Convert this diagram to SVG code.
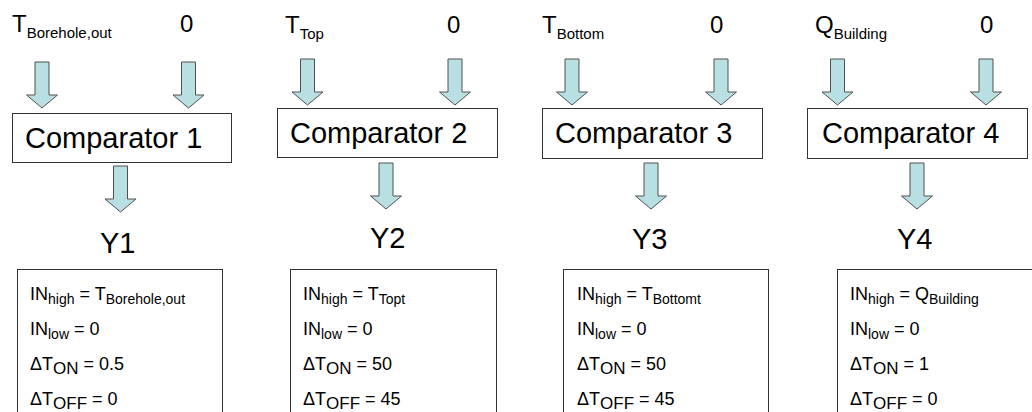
<svg xmlns="http://www.w3.org/2000/svg" xmlns:xlink="http://www.w3.org/1999/xlink" width="1032" height="412" viewBox="0 0 1032 412">
<style>
text{font-family:"Liberation Sans",Arial,sans-serif;fill:#000}
.h{font-size:24px}
.hs{font-size:15px}
.c{font-size:29px}
.y{font-size:29px}
.i{font-size:18px}
.is{font-size:14px}
.io{font-size:17px}
.box{fill:#fff;stroke:#333;stroke-width:1}
.arr{fill:#B8DFE2;stroke:#505050;stroke-width:1}
</style>
<defs>
<path id="a" class="arr" d="M-7,-46H7V-13H15.5L0,0L-15.5,-13H-7Z"/>
</defs>
<g id="connectors">
<use xlink:href="#a" href="#a" x="42" y="108"/>
<use xlink:href="#a" href="#a" x="188.5" y="108"/>
<use xlink:href="#a" href="#a" x="120.5" y="212"/>
<use xlink:href="#a" href="#a" x="307.5" y="105"/>
<use xlink:href="#a" href="#a" x="455" y="105"/>
<use xlink:href="#a" href="#a" x="386" y="209"/>
<use xlink:href="#a" href="#a" x="572" y="105"/>
<use xlink:href="#a" href="#a" x="721" y="105"/>
<use xlink:href="#a" href="#a" x="651" y="209"/>
<use xlink:href="#a" href="#a" x="837.5" y="105"/>
<use xlink:href="#a" href="#a" x="986" y="105"/>
<use xlink:href="#a" href="#a" x="917" y="209"/>
</g>
<g id="in1"><text class="h" x="12" y="32">T<tspan class="hs" dy="6">Borehole,out</tspan></text><text class="h" x="180" y="32">0</text></g>
<g id="in2"><text class="h" x="285" y="33">T<tspan class="hs" dy="6">Top</tspan></text><text class="h" x="447" y="33">0</text></g>
<g id="in3"><text class="h" x="542" y="33">T<tspan class="hs" dy="6">Bottom</tspan></text><text class="h" x="710" y="33">0</text></g>
<g id="in4"><text class="h" x="815" y="33">Q<tspan class="hs" dy="6">Building</tspan></text><text class="h" x="980" y="33">0</text></g>
<g id="comp1"><rect class="box" x="12.5" y="113.5" width="219" height="49"/><text class="c" x="25" y="148">Comparator 1</text></g>
<g id="comp2"><rect class="box" x="277.5" y="108.5" width="220" height="49"/><text class="c" x="290" y="143">Comparator 2</text></g>
<g id="comp3"><rect class="box" x="542.5" y="108.5" width="220" height="50"/><text class="c" x="555" y="143">Comparator 3</text></g>
<g id="comp4"><rect class="box" x="807.5" y="108.5" width="220" height="50"/><text class="c" x="822" y="143">Comparator 4</text></g>
<g id="y1"><text class="y" x="100" y="253">Y1</text></g>
<g id="y2"><text class="y" x="370" y="248">Y2</text></g>
<g id="y3"><text class="y" x="632" y="249">Y3</text></g>
<g id="y4"><text class="y" x="897" y="249">Y4</text></g>
<g id="p1"><rect class="box" x="17.5" y="269.5" width="205" height="160"/>
<text class="i" x="30" y="300">IN<tspan class="is" dy="4">high</tspan><tspan dy="-4"> = T</tspan><tspan class="is" dy="4">Borehole,out</tspan></text>
<text class="i" x="30" y="335">IN<tspan class="is" dy="4">low</tspan><tspan dy="-4"> = 0</tspan></text>
<text class="i" x="30" y="370">ΔT<tspan class="io" dy="4">ON</tspan><tspan dy="-4"> = 0.5</tspan></text>
<text class="i" x="30" y="405">ΔT<tspan class="io" dy="4">OFF</tspan><tspan dy="-4"> = 0</tspan></text></g>
<g id="p2"><rect class="box" x="290.5" y="269.5" width="206" height="160"/>
<text class="i" x="303" y="300">IN<tspan class="is" dy="4">high</tspan><tspan dy="-4"> = T</tspan><tspan class="is" dy="4">Topt</tspan></text>
<text class="i" x="303" y="335">IN<tspan class="is" dy="4">low</tspan><tspan dy="-4"> = 0</tspan></text>
<text class="i" x="303" y="370">ΔT<tspan class="io" dy="4">ON</tspan><tspan dy="-4"> = 50</tspan></text>
<text class="i" x="303" y="405">ΔT<tspan class="io" dy="4">OFF</tspan><tspan dy="-4"> = 45</tspan></text></g>
<g id="p3"><rect class="box" x="563.5" y="269.5" width="205" height="160"/>
<text class="i" x="577" y="300">IN<tspan class="is" dy="4">high</tspan><tspan dy="-4"> = T</tspan><tspan class="is" dy="4">Bottomt</tspan></text>
<text class="i" x="577" y="335">IN<tspan class="is" dy="4">low</tspan><tspan dy="-4"> = 0</tspan></text>
<text class="i" x="577" y="370">ΔT<tspan class="io" dy="4">ON</tspan><tspan dy="-4"> = 50</tspan></text>
<text class="i" x="577" y="405">ΔT<tspan class="io" dy="4">OFF</tspan><tspan dy="-4"> = 45</tspan></text></g>
<g id="p4"><rect class="box" x="837.5" y="269.5" width="210" height="160"/>
<text class="i" x="850" y="300">IN<tspan class="is" dy="4">high</tspan><tspan dy="-4"> = Q</tspan><tspan class="is" dy="4">Building</tspan></text>
<text class="i" x="850" y="335">IN<tspan class="is" dy="4">low</tspan><tspan dy="-4"> = 0</tspan></text>
<text class="i" x="850" y="370">ΔT<tspan class="io" dy="4">ON</tspan><tspan dy="-4"> = 1</tspan></text>
<text class="i" x="850" y="405">ΔT<tspan class="io" dy="4">OFF</tspan><tspan dy="-4"> = 0</tspan></text></g>
</svg>
